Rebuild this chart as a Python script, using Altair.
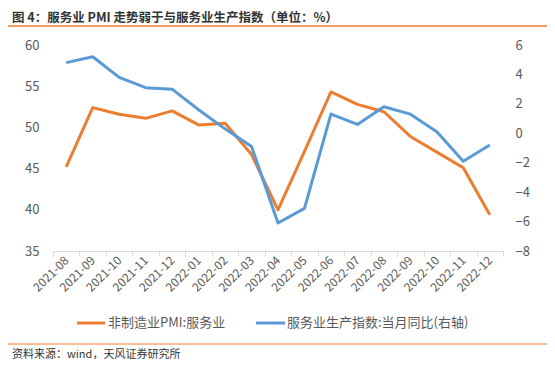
import altair as alt
import pandas as pd

months = ["2021-08", "2021-09", "2021-10", "2021-11", "2021-12", "2022-01", "2022-02",
          "2022-03", "2022-04", "2022-05", "2022-06", "2022-07", "2022-08", "2022-09",
          "2022-10", "2022-11", "2022-12"]
pmi_services = [45.2, 52.4, 51.6, 51.1, 52.0, 50.3, 50.5, 46.7, 40.0, 47.1, 54.3, 52.8, 51.9,
                48.9, 47.0, 45.1, 39.4]
prod_index_yoy = [4.8, 5.2, 3.8, 3.1, 3.0, 1.6, 0.3, -0.9, -6.1, -5.1, 1.3, 0.6, 1.8, 1.3,
                  0.1, -1.9, -0.8]
left_ticks = [35, 40, 45, 50, 55, 60]
right_ticks = [-8, -6, -4, -2, 0, 2, 4, 6]

title_text = "图 4：服务业 PMI 走势弱于与服务业生产指数（单位：%）"
source_text = "资料来源：wind，天风证券研究所"
legend_labels = ["非制造业PMI:服务业", "服务业生产指数:当月同比(右轴)"]

ORANGE = "#ED7D31"
BLUE = "#5B9BD5"
GREY = "#595959"
FONT = "Noto Sans CJK SC"

df = pd.DataFrame({"month": months, "pmi": pmi_services, "prod": prod_index_yoy})

xenc = alt.X(
    "month:N", sort=months,
    scale=alt.Scale(type="band", paddingInner=0, paddingOuter=0),
    axis=alt.Axis(title=None, labelAngle=-45, tickBand="extent", domainColor="#d9d9d9",
                  tickColor="#d9d9d9", tickSize=5, labelColor=GREY, labelFontSize=12,
                  labelFont=FONT, labelPadding=2, grid=False, labelAlign="right",
                  labelBaseline="middle"),
)

left = alt.Chart(df).mark_line(color=ORANGE, strokeWidth=3, strokeJoin="round").encode(
    x=xenc,
    y=alt.Y("pmi:Q", scale=alt.Scale(domain=[35, 60], nice=False, zero=False),
            axis=alt.Axis(title=None, values=left_ticks, domain=False, ticks=False, grid=False,
                          labelColor=GREY, labelFontSize=13, labelFont=FONT, labelPadding=14,
                          orient="left")),
)

right = alt.Chart(df).mark_line(color=BLUE, strokeWidth=3, strokeJoin="round").encode(
    x=xenc,
    y=alt.Y("prod:Q", scale=alt.Scale(domain=[-8, 6], nice=False, zero=False),
            axis=alt.Axis(title=None, values=right_ticks, domain=False, ticks=False, grid=False,
                          labelColor=GREY, labelFontSize=13, labelFont=FONT, labelPadding=12,
                          orient="right")),
)

one = pd.DataFrame({"a": [0]})

title = alt.Chart(pd.DataFrame({"t": [title_text]})).mark_text(
    align="left", baseline="middle", font=FONT, fontSize=12.5, fontWeight="bold", color="#333333"
).encode(x=alt.value(-41), y=alt.value(-27), text="t:N")

top_rule = alt.Chart(one).mark_rule(color=ORANGE, strokeWidth=1.5).encode(
    x=alt.value(-50), x2=alt.value(497), y=alt.value(-19))

bottom_rule = alt.Chart(one).mark_rule(color=ORANGE, strokeWidth=1).encode(
    x=alt.value(-50), x2=alt.value(497), y=alt.value(299))

source = alt.Chart(pd.DataFrame({"t": [source_text]})).mark_text(
    align="left", baseline="middle", font=FONT, fontSize=11, color="#333333"
).encode(x=alt.value(-41), y=alt.value(310), text="t:N")

leg_rule1 = alt.Chart(one).mark_rule(color=ORANGE, strokeWidth=3).encode(
    x=alt.value(24), x2=alt.value(52), y=alt.value(278))
leg_text1 = alt.Chart(pd.DataFrame({"t": [legend_labels[0]]})).mark_text(
    align="left", baseline="middle", font=FONT, fontSize=13, color=GREY
).encode(x=alt.value(55), y=alt.value(278), text="t:N")
leg_rule2 = alt.Chart(one).mark_rule(color=BLUE, strokeWidth=3).encode(
    x=alt.value(203), x2=alt.value(232), y=alt.value(278))
leg_text2 = alt.Chart(pd.DataFrame({"t": [legend_labels[1]]})).mark_text(
    align="left", baseline="middle", font=FONT, fontSize=13, color=GREY
).encode(x=alt.value(234), y=alt.value(278), text="t:N")

chart = alt.layer(
    left, right, title, top_rule, bottom_rule, source, leg_rule1, leg_text1, leg_rule2, leg_text2
).resolve_scale(y="independent").properties(
    width=450, height=206,
    autosize=alt.AutoSizeParams(type="none"),
    padding={"left": 45, "top": 37, "right": 44, "bottom": 115},
    background="white",
).configure_view(stroke=None)

chart.save("out.html", embed_options={"renderer": "svg", "actions": False})
